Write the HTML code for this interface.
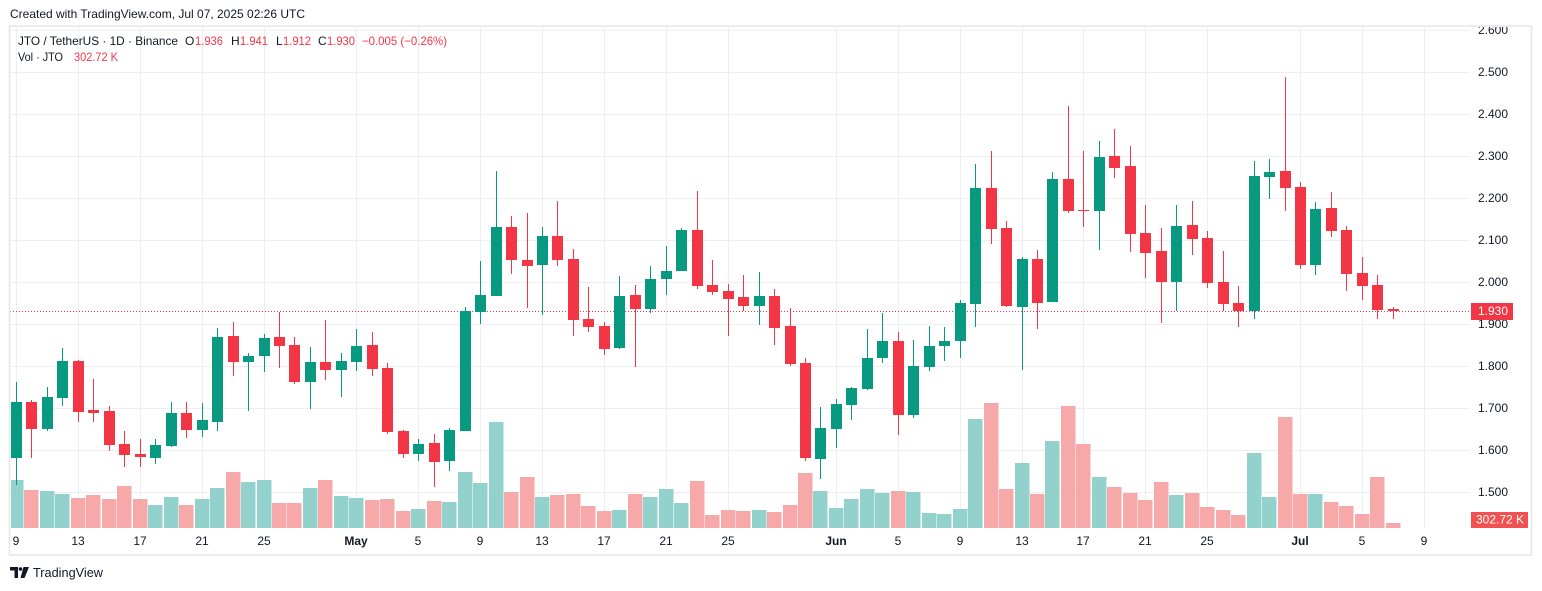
<!DOCTYPE html>
<html><head><meta charset="utf-8"><style>
html,body{margin:0;padding:0;background:#fff;}
svg{display:block;font-family:"Liberation Sans",sans-serif;}
</style></head><body>
<svg width="1542" height="591" viewBox="0 0 1542 591" xmlns="http://www.w3.org/2000/svg">
<defs>
<clipPath id="pane"><rect x="10.5" y="27" width="1460" height="501"/></clipPath>
<clipPath id="axis"><rect x="1471" y="27" width="60" height="502"/></clipPath>
</defs>
<rect width="1542" height="591" fill="#fff"/>
<text x="10" y="18" font-size="12" fill="#131722" textLength="295" lengthAdjust="spacingAndGlyphs">Created with TradingView.com, Jul 07, 2025 02:26 UTC</text>
<rect x="9.5" y="26" width="1522" height="529" fill="none" stroke="#E6E6E6" stroke-width="1.5"/>
<g clip-path="url(#pane)">
<g stroke="#EDEEF1" stroke-width="1" fill="none">
<path d="M10 30.5H1470M10 72.5H1470M10 114.5H1470M10 156.5H1470M10 198.5H1470M10 240.5H1470M10 282.5H1470M10 324.5H1470M10 366.5H1470M10 408.5H1470M10 450.5H1470M10 492.5H1470"/>
<path d="M16.5 26V528M78.5 26V528M140.5 26V528M202.5 26V528M264.5 26V528M356.5 26V528M418.5 26V528M480.5 26V528M542.5 26V528M604.5 26V528M666.5 26V528M728.5 26V528M836.5 26V528M898.5 26V528M960.5 26V528M1022.5 26V528M1083.5 26V528M1145.5 26V528M1207.5 26V528M1300.5 26V528M1362.5 26V528M1424.5 26V528"/>
</g>
<path fill="#93D2CC" d="M11 480H23.5V528H11zM40 491H54.5V528H40zM55 494H69.5V528H55zM148 505H162.5V528H148zM164 497H178.5V528H164zM195 499H209.5V528H195zM210 488H224.5V528H210zM241 482H255.5V528H241zM257 480H271.5V528H257zM303 488H317.5V528H303zM334 496H348.5V528H334zM349 498H363.5V528H349zM411 509H425.5V528H411zM442 502H456.5V528H442zM458 472H472.5V528H458zM473 483H487.5V528H473zM489 422H503.5V528H489zM535 497H549.5V528H535zM612 510H626.5V528H612zM643 497H657.5V528H643zM659 489H673.5V528H659zM674 503H688.5V528H674zM752 510H766.5V528H752zM813 491H827.5V528H813zM829 508H843.5V528H829zM844 499H858.5V528H844zM860 489H874.5V528H860zM875 493H889.5V528H875zM906 492H920.5V528H906zM922 513H936.5V528H922zM937 514H951.5V528H937zM953 509H967.5V528H953zM968 419H982.5V528H968zM1015 463H1029.5V528H1015zM1045 441H1059.5V528H1045zM1092 477H1106.5V528H1092zM1169 495H1183.5V528H1169zM1247 453H1261.5V528H1247zM1262 497H1276.5V528H1262zM1308 494H1322.5V528H1308z"/>
<path fill="#F6A9A8" d="M24 490H38.5V528H24zM71 498H85.5V528H71zM86 495H100.5V528H86zM102 499H116.5V528H102zM117 486H131.5V528H117zM133 499H147.5V528H133zM179 505H193.5V528H179zM226 472H240.5V528H226zM272 503H286.5V528H272zM287 503H301.5V528H287zM318 480H332.5V528H318zM365 500H379.5V528H365zM380 499H394.5V528H380zM396 511H410.5V528H396zM427 501H441.5V528H427zM504 492H518.5V528H504zM520 477H534.5V528H520zM550 495H564.5V528H550zM566 494H580.5V528H566zM581 506H595.5V528H581zM597 511H611.5V528H597zM628 494H642.5V528H628zM690 481H704.5V528H690zM705 515H719.5V528H705zM721 510H735.5V528H721zM736 511H750.5V528H736zM767 512H781.5V528H767zM783 505H797.5V528H783zM798 473H812.5V528H798zM891 491H905.5V528H891zM984 403H998.5V528H984zM999 489H1013.5V528H999zM1030 494H1044.5V528H1030zM1061 406H1075.5V528H1061zM1076 444H1090.5V528H1076zM1107 487H1121.5V528H1107zM1123 493H1137.5V528H1123zM1138 500H1152.5V528H1138zM1154 482H1168.5V528H1154zM1185 493H1199.5V528H1185zM1200 507H1214.5V528H1200zM1216 510H1230.5V528H1216zM1231 515H1245.5V528H1231zM1278 417H1292.5V528H1278zM1293 494H1307.5V528H1293zM1324 502H1338.5V528H1324zM1339 506H1353.5V528H1339zM1355 514H1369.5V528H1355zM1370 477H1384.5V528H1370zM1386 523H1400.5V528H1386z"/>
<path d="M10 311.5H1470" stroke="#F23645" stroke-width="1" stroke-dasharray="1 2" fill="none"/>
<path stroke="#089981" stroke-width="1" fill="none" d="M16.5 382V485M47.5 387V431M62.5 348V406M155.5 439V464M171.5 402V447M202.5 403V437M217.5 328V431M248.5 353V411M264.5 334V372M310.5 347V409M341.5 353V397M356.5 329V371M418.5 439V461M449.5 428V471M465.5 307V431M480.5 261V324M496.5 171V296M542.5 227V315M619.5 276V349M650.5 266V313M666.5 246V295M681.5 228V271M759.5 272V325M820.5 407V479M836.5 399V448M851.5 387V420M867.5 329V390M882.5 313V363M913.5 340V418M929.5 326V371M944.5 327V361M960.5 300V358M975.5 164V327M1022.5 257V370M1052.5 172V302M1099.5 141V250M1176.5 205V311M1254.5 161V319M1269.5 159V199M1315.5 202V275"/>
<path fill="#089981" d="M11 402H22V458H11zM42 397H53V429H42zM57 361H68V398H57zM150 445H161V458H150zM166 413H177V446H166zM197 420H208V430H197zM212 337H223V422H212zM243 356H254V362H243zM259 338H270V356H259zM305 362H316V382H305zM336 361H347V370H336zM351 346H362V362H351zM413 444H424V454H413zM444 430H455V461H444zM460 311H471V431H460zM475 295H486V312H475zM491 227H502V296H491zM537 236H548V265H537zM614 296H625V348H614zM645 279H656V309H645zM661 271H672V279H661zM676 230H687V271H676zM754 296H765V306H754zM815 428H826V459H815zM831 404H842V429H831zM846 388H857V405H846zM862 358H873V389H862zM877 341H888V358H877zM908 366H919V415H908zM924 346H935V367H924zM939 341H950V346H939zM955 303H966V341H955zM970 188H981V304H970zM1017 259H1028V307H1017zM1047 179H1058V302H1047zM1094 157H1105V211H1094zM1171 226H1182V282H1171zM1249 176H1260V311H1249zM1264 172H1275V177H1264zM1310 209H1321V265H1310z"/>
<path stroke="#F23645" stroke-width="1" fill="none" d="M31.5 400V458M78.5 360V422M93.5 379V422M109.5 406V451M124.5 431V467M140.5 439V467M186.5 402V438M233.5 322V376M279.5 312V368M294.5 337V384M325.5 320V380M372.5 332V376M387.5 363V434M403.5 430V458M434.5 434V487M511.5 216V274M527.5 213V308M557.5 201V266M573.5 249V336M588.5 287V332M604.5 322V355M635.5 285V367M697.5 191V289M712.5 260V295M728.5 284V336M743.5 275V311M774.5 289V345M790.5 308V366M805.5 358V461M898.5 332V435M991.5 151V244M1006.5 221V307M1037.5 250V329M1068.5 106V213M1083.5 151V227M1114.5 129V178M1130.5 146V252M1145.5 205V278M1161.5 228V323M1192.5 201V255M1207.5 231V288M1223.5 251V311M1238.5 286V327M1285.5 77V211M1300.5 182V269M1331.5 192V237M1346.5 226V291M1362.5 257V300M1377.5 275V319M1393.5 307V319"/>
<path fill="#F23645" d="M26 402H37V429H26zM73 361H84V412H73zM88 410H99V413H88zM104 411H115V445H104zM119 444H130V455H119zM135 454H146V457H135zM181 413H192V430H181zM228 336H239V362H228zM274 337H285V346H274zM289 345H300V382H289zM320 362H331V370H320zM367 345H378V369H367zM382 368H393V432H382zM398 431H409V454H398zM429 443H440V462H429zM506 227H517V260H506zM522 260H533V266H522zM552 236H563V260H552zM568 259H579V320H568zM583 319H594V327H583zM599 326H610V349H599zM630 295H641V309H630zM692 230H703V286H692zM707 285H718V292H707zM723 291H734V299H723zM738 297H749V306H738zM769 296H780V328H769zM785 326H796V364H785zM800 363H811V458H800zM893 341H904V415H893zM986 188H997V229H986zM1001 228H1012V306H1001zM1032 259H1043V303H1032zM1063 179H1074V211H1063zM1078 210H1089V211H1078zM1109 156H1120V168H1109zM1125 166H1136V234H1125zM1140 233H1151V253H1140zM1156 251H1167V282H1156zM1187 225H1198V239H1187zM1202 238H1213V283H1202zM1218 282H1229V304H1218zM1233 303H1244V311H1233zM1280 171H1291V188H1280zM1295 187H1306V265H1295zM1326 208H1337V231H1326zM1341 230H1352V274H1341zM1357 273H1368V286H1357zM1372 285H1383V310H1372zM1388 309H1399V311H1388z"/>
</g>
<!-- legend -->
<g font-size="12" dominant-baseline="middle">
<text x="18" y="42" fill="#131722" textLength="160" lengthAdjust="spacingAndGlyphs">JTO / TetherUS · 1D · Binance</text>
<text x="185" y="42" fill="#131722">O</text>
<text x="195" y="42" fill="#F23645" textLength="28" lengthAdjust="spacingAndGlyphs">1.936</text>
<text x="231" y="42" fill="#131722">H</text>
<text x="240" y="42" fill="#F23645" textLength="28" lengthAdjust="spacingAndGlyphs">1.941</text>
<text x="276" y="42" fill="#131722">L</text>
<text x="283" y="42" fill="#F23645" textLength="28" lengthAdjust="spacingAndGlyphs">1.912</text>
<text x="318" y="42" fill="#131722">C</text>
<text x="327" y="42" fill="#F23645" textLength="28" lengthAdjust="spacingAndGlyphs">1.930</text>
<text x="362" y="42" fill="#F23645" textLength="85" lengthAdjust="spacingAndGlyphs">−0.005 (−0.26%)</text>
<text x="18" y="58" fill="#131722" textLength="45" lengthAdjust="spacingAndGlyphs">Vol · JTO</text>
<text x="74" y="58" fill="#F23645" textLength="44" lengthAdjust="spacingAndGlyphs">302.72 K</text>
</g>
<!-- price axis -->
<g clip-path="url(#axis)" font-size="12" fill="#131722" dominant-baseline="middle">
<text x="1478" y="31">2.600</text>
<text x="1478" y="73">2.500</text>
<text x="1478" y="115">2.400</text>
<text x="1478" y="157">2.300</text>
<text x="1478" y="199">2.200</text>
<text x="1478" y="241">2.100</text>
<text x="1478" y="283">2.000</text>
<text x="1478" y="325">1.900</text>
<text x="1478" y="367">1.800</text>
<text x="1478" y="409">1.700</text>
<text x="1478" y="451">1.600</text>
<text x="1478" y="493">1.500</text>
</g>
<rect x="1471" y="303" width="42" height="17" fill="#F23645"/>
<text x="1478" y="312" font-size="12" fill="#fff" dominant-baseline="middle">1.930</text>
<rect x="1471" y="512" width="57" height="16" fill="#F0524F"/>
<text x="1476" y="520.5" font-size="12" fill="#fff" dominant-baseline="middle" textLength="48" lengthAdjust="spacingAndGlyphs">302.72 K</text>
<!-- time axis -->
<g font-size="12" fill="#131722" text-anchor="middle" dominant-baseline="middle">
<text x="16" y="542">9</text>
<text x="78" y="542">13</text>
<text x="140" y="542">17</text>
<text x="202" y="542">21</text>
<text x="264" y="542">25</text>
<text x="356" y="542" font-weight="bold">May</text>
<text x="418" y="542">5</text>
<text x="480" y="542">9</text>
<text x="542" y="542">13</text>
<text x="604" y="542">17</text>
<text x="666" y="542">21</text>
<text x="728" y="542">25</text>
<text x="836" y="542" font-weight="bold">Jun</text>
<text x="898" y="542">5</text>
<text x="960" y="542">9</text>
<text x="1022" y="542">13</text>
<text x="1083" y="542">17</text>
<text x="1145" y="542">21</text>
<text x="1207" y="542">25</text>
<text x="1300" y="542" font-weight="bold">Jul</text>
<text x="1362" y="542">5</text>
<text x="1424" y="542">9</text>
</g>
<!-- logo -->
<g fill="#131722">
<path d="M10 567H18V578H14.5V570.5H10z"/>
<circle cx="20.5" cy="569" r="1.8"/>
<path d="M23.5 567H29L24.5 578H20.5z"/>
</g>
<text x="33" y="573.5" font-size="13" fill="#131722" dominant-baseline="middle" textLength="70" lengthAdjust="spacingAndGlyphs">TradingView</text>
</svg>
</body></html>
